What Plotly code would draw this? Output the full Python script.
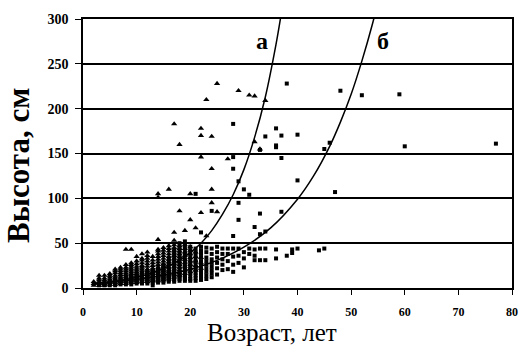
import plotly.graph_objects as go

# ---- Data: group "а" (triangles) ----
tri_age = (
    [2]*3 + [3]*6 + [4]*6 + [5]*7 + [6]*9 + [7]*10 + [8]*12 + [9]*13 + [10]*13
    + [11]*14 + [12]*14 + [13]*12 + [14]*18 + [15]*15 + [16]*16 + [17]*16
    + [18]*14 + [19]*10 + [20]*10 + [21]*6 + [22]*7 + [23]*2 + [24]*4 + [25]*2
    + [27] + [29] + [31] + [32]*2 + [33] + [34]
)
tri_height = (
    [3, 5, 7]
    + [3, 5, 7, 9, 11, 14]
    + [3, 5, 7, 9, 11, 14]
    + [4, 6, 8, 10, 12, 14, 16]
    + [4, 6, 8, 10, 12, 14, 17, 19, 21]
    + [5, 7, 9, 11, 13, 15, 17, 19, 21, 23]
    + [5, 7, 9, 11, 13, 15, 17, 19, 21, 23, 26, 43]
    + [6, 8, 10, 12, 14, 16, 18, 20, 22, 24, 26, 28, 43]
    + [6, 8, 10, 12, 14, 16, 18, 20, 22, 24, 27, 30, 35]
    + [7, 9, 11, 13, 15, 17, 19, 21, 23, 25, 28, 31, 33, 38]
    + [7, 9, 11, 13, 15, 17, 19, 21, 24, 27, 30, 33, 36, 40]
    + [8, 10, 12, 14, 16, 18, 20, 22, 25, 28, 31, 35]
    + [8, 10, 12, 14, 16, 18, 20, 23, 26, 29, 32, 35, 38, 41, 43, 54, 101, 105]
    + [9, 11, 13, 15, 17, 19, 21, 24, 27, 30, 33, 36, 39, 42, 45]
    + [10, 12, 14, 16, 18, 20, 23, 26, 29, 32, 35, 38, 41, 44, 47, 110]
    + [12, 15, 18, 21, 24, 27, 30, 33, 36, 39, 42, 45, 48, 53, 62, 183]
    + [14, 17, 20, 23, 26, 29, 32, 35, 38, 41, 44, 47, 86, 160]
    + [16, 20, 24, 28, 32, 36, 40, 44, 48, 64]
    + [18, 22, 26, 30, 34, 38, 42, 46, 76, 105]
    + [20, 25, 30, 35, 40, 67]
    + [22, 28, 34, 84, 146, 170, 178]
    + [58, 210]
    + [95, 110, 133, 169]
    + [85, 228]
    + [144]
    + [220]
    + [215]
    + [214, 163]
    + [155]
    + [209]
)

# ---- Data: group "б" (squares) ----
sq_age = (
    [3]*2 + [4]*3 + [5]*3 + [6]*4 + [7]*4 + [8]*5 + [9]*6 + [10]*6 + [11]*7
    + [12]*8 + [13]*9 + [14]*9 + [15]*11 + [16]*12 + [17]*14 + [18]*15
    + [19]*15 + [20]*13 + [21]*13 + [22]*12 + [23]*9 + [24]*9 + [25]*6
    + [26]*5 + [27]*4 + [28]*8 + [29]*6 + [30]*4 + [31]*3 + [32]*4 + [33]*5
    + [34]*4 + [36]*5 + [37]*3 + [38]*2 + [39]*2 + [40]*3 + [44] + [45]*2
    + [46] + [47] + [48] + [52] + [59] + [60] + [77]
)
sq_height = (
    [3, 4]
    + [3, 4, 6]
    + [3, 5, 7]
    + [3, 5, 7, 9]
    + [4, 6, 8, 10]
    + [4, 6, 8, 10, 12]
    + [4, 6, 8, 10, 12, 14]
    + [5, 7, 9, 11, 13, 15]
    + [5, 7, 9, 11, 13, 15, 17]
    + [5, 7, 9, 11, 13, 15, 17, 19]
    + [3, 6, 8, 10, 12, 14, 16, 18, 20]
    + [6, 8, 10, 12, 14, 16, 18, 20, 22]
    + [6, 8, 10, 12, 14, 16, 18, 20, 22, 24, 26]
    + [7, 9, 11, 13, 15, 17, 19, 21, 24, 27, 30, 33]
    + [7, 9, 11, 13, 15, 17, 19, 22, 25, 28, 31, 34, 38, 42]
    + [8, 10, 12, 14, 16, 18, 21, 24, 27, 30, 34, 38, 42, 46, 50]
    + [8, 10, 12, 14, 17, 20, 23, 26, 29, 32, 36, 40, 44, 48, 52]
    + [8, 10, 13, 16, 19, 22, 25, 28, 31, 34, 38, 42, 46]
    + [8, 11, 14, 17, 20, 23, 26, 29, 32, 36, 40, 44, 105]
    + [9, 12, 15, 18, 22, 26, 30, 34, 38, 42, 46, 62]
    + [10, 14, 18, 22, 26, 30, 34, 40, 45]
    + [12, 16, 20, 24, 28, 32, 38, 44, 86]
    + [15, 22, 28, 34, 40, 46]
    + [20, 26, 32, 38, 44]
    + [21, 30, 38, 44]
    + [18, 26, 35, 44, 58, 133, 146, 183]
    + [28, 36, 44, 76, 95, 119]
    + [23, 33, 40, 110]
    + [38, 44, 104]
    + [31, 36, 43, 68]
    + [31, 44, 60, 83, 154]
    + [31, 44, 63, 169]
    + [33, 43, 157, 159, 178]
    + [85, 145, 170]
    + [36, 228]
    + [39, 43]
    + [44, 120, 171]
    + [42]
    + [44, 155]
    + [162]
    + [107]
    + [220]
    + [215]
    + [216]
    + [158]
    + [161]
)

# ---- Trend curves ----
curve_a_age = [2, 5, 8, 10, 12, 15, 18, 20, 22, 24, 26, 28, 30, 32, 34, 36, 37]
curve_a_height = [4.6, 6.6, 9.4, 12, 15.2, 21.7, 31, 39.5, 50, 64, 82, 104, 132, 168, 213, 272, 307]
curve_b_age = [2, 5, 10, 15, 20, 25, 30, 35, 40, 43, 46, 48, 50, 52, 54, 55]
curve_b_height = [5.1, 6.5, 9.6, 14.1, 20.8, 30.8, 45.5, 67, 99, 125, 158, 185, 216, 253, 295, 319]

x_ticks = [0, 10, 20, 30, 40, 50, 60, 70, 80]
y_ticks = [0, 50, 100, 150, 200, 250, 300]

fig = go.Figure()
fig.add_trace(go.Scatter(x=sq_age, y=sq_height, mode="markers",
                         marker=dict(symbol="square", size=4, color="black"),
                         showlegend=False, cliponaxis=True))
fig.add_trace(go.Scatter(x=tri_age, y=tri_height, mode="markers",
                         marker=dict(symbol="triangle-up", size=5.5, color="black"),
                         showlegend=False, cliponaxis=True))
fig.add_trace(go.Scatter(x=curve_a_age, y=curve_a_height, mode="lines",
                         line=dict(color="black", width=1.5, shape="spline"),
                         showlegend=False))
fig.add_trace(go.Scatter(x=curve_b_age, y=curve_b_height, mode="lines",
                         line=dict(color="black", width=1.5, shape="spline"),
                         showlegend=False))

serif = "Liberation Serif, Times New Roman, serif"

fig.update_layout(
    width=523, height=351,
    margin=dict(l=83, r=11, t=19, b=63, autoexpand=False),
    paper_bgcolor="white", plot_bgcolor="white",
    font=dict(family=serif, color="black"),
    xaxis=dict(range=[0, 80], tickvals=x_ticks, ticks="outside", ticklen=5,
               tickwidth=1.2, tickcolor="black", showline=True, linecolor="black",
               linewidth=1.5, mirror=True, showgrid=False, zeroline=False,
               automargin=False,
               tickfont=dict(family=serif, size=12, color="black", weight="bold"),
               ticklabelstandoff=7),
    yaxis=dict(range=[0, 300], tickvals=y_ticks, ticks="outside", ticklen=6,
               tickwidth=1.2, tickcolor="black", showline=True, linecolor="black",
               linewidth=1.5, mirror=True, showgrid=True, gridcolor="black",
               gridwidth=1.5, zeroline=False, automargin=False,
               tickfont=dict(family=serif, size=14, color="black", weight="bold"),
               ticklabelstandoff=4),
    annotations=[
        dict(text="Высота, см", xref="paper", yref="paper", x=-0.149, y=0.454,
             textangle=-90, showarrow=False, xanchor="center", yanchor="middle",
             font=dict(family=serif, size=31, color="black", weight="bold")),
        dict(text="Возраст, лет", xref="paper", yref="paper", x=0.44, y=-0.167,
             showarrow=False, xanchor="center", yanchor="middle",
             font=dict(family=serif, size=25, color="black")),
        dict(text="а", xref="x", yref="y", x=33.3, y=275, showarrow=False,
             font=dict(family=serif, size=24, color="black", weight="bold")),
        dict(text="б", xref="x", yref="y", x=56, y=275, showarrow=False,
             font=dict(family=serif, size=24, color="black", weight="bold")),
    ],
)

fig.write_html("out.html", config={"displayModeBar": False},
               post_script="document.body.style.margin='0';document.body.style.padding='0';")
